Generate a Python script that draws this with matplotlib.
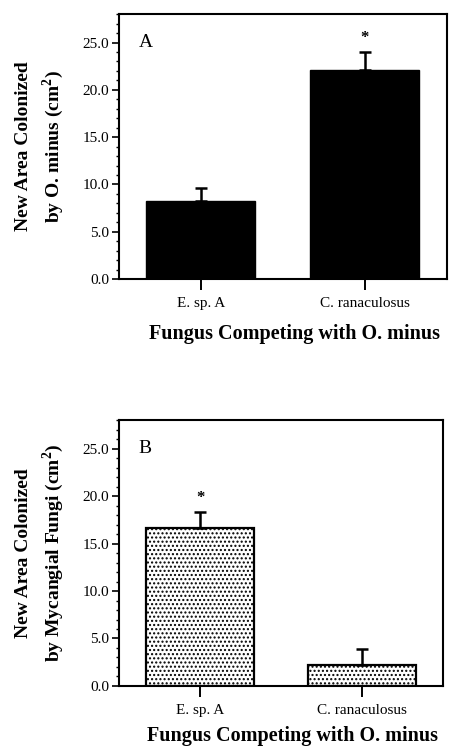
import matplotlib
matplotlib.use("Agg")
import matplotlib.pyplot as plt
from matplotlib.ticker import MultipleLocator, FormatStrFormatter

plt.rcParams['font.family'] = ['Liberation Serif', 'DejaVu Serif']
plt.rcParams['mathtext.fontset'] = 'custom'
plt.rcParams['mathtext.rm'] = 'Liberation Serif'
plt.rcParams['mathtext.bf'] = 'Liberation Serif:bold'
plt.rcParams['hatch.linewidth'] = 1.0

fungi = ['E. sp. A', 'C. ranaculosus']

# panel A: area colonized by O. minus
area_ominus = [8.3, 22.1]
err_ominus = [1.3, 1.9]
sig_ominus = [False, True]

# panel B: area colonized by mycangial fungi
area_myc = [16.7, 2.2]
err_myc = [1.6, 1.7]
sig_myc = [True, False]

fig = plt.figure(figsize=(4.56, 7.48), dpi=100)
ax_a = fig.add_axes([0.261, 0.627, 0.719, 0.354])
ax_b = fig.add_axes([0.261, 0.083, 0.711, 0.355])


def draw_panel(ax, values, errs, sig, letter, ylabel, hatch=None, xlab_y=-0.17):
    x = range(len(fungi))
    if hatch:
        ax.bar(x, values, width=0.665, color='white', edgecolor='black',
               linewidth=1.6, hatch=hatch)
    else:
        ax.bar(x, values, width=0.665, color='black', edgecolor='black')
    ax.errorbar(x, values, yerr=[[0] * len(errs), errs], fmt='none',
                ecolor='black', elinewidth=1.8, capsize=4.5, capthick=1.8)
    for xi, v, e, s in zip(x, values, errs, sig):
        if s:
            ax.text(xi, v + e + 1.5, '*', ha='center', va='center',
                    fontsize=12, fontweight='bold')
    ax.set_xlim(-0.5, 1.5)
    ax.set_ylim(0, 28)
    ax.set_xticks(list(x))
    ax.set_xticklabels(fungi, fontsize=11)
    ax.yaxis.set_major_locator(MultipleLocator(5))
    ax.yaxis.set_minor_locator(MultipleLocator(1))
    ax.yaxis.set_major_formatter(FormatStrFormatter('%.1f'))
    ax.tick_params(axis='y', which='major', direction='out', length=5,
                   width=1.2, labelsize=11, pad=2)
    ax.tick_params(axis='y', which='minor', direction='out', length=2.5,
                   width=1.0)
    ax.tick_params(axis='x', direction='out', length=8, width=1.4,
                   pad=5)
    for sp in ax.spines.values():
        sp.set_linewidth(1.5)
    ax.text(0.06, 0.895, letter, transform=ax.transAxes, fontsize=14,
            ha='left', va='center')
    ax.set_ylabel(ylabel, fontsize=14, fontweight='bold', labelpad=12,
                  linespacing=1.45)
    ax.set_xlabel('Fungus Competing with O. minus', fontsize=14.5,
                  fontweight='bold')
    ax.xaxis.set_label_coords(0.536, xlab_y)


draw_panel(ax_a, area_ominus, err_ominus, sig_ominus, 'A',
           'New Area Colonized\nby O. minus (cm$^{\\mathbf{2}}$)')
draw_panel(ax_b, area_myc, err_myc, sig_myc, 'B',
           'New Area Colonized\nby Mycangial Fungi (cm$^{\\mathbf{2}}$)',
           hatch='....', xlab_y=-0.15)

fig.savefig('out.png', dpi=100)
